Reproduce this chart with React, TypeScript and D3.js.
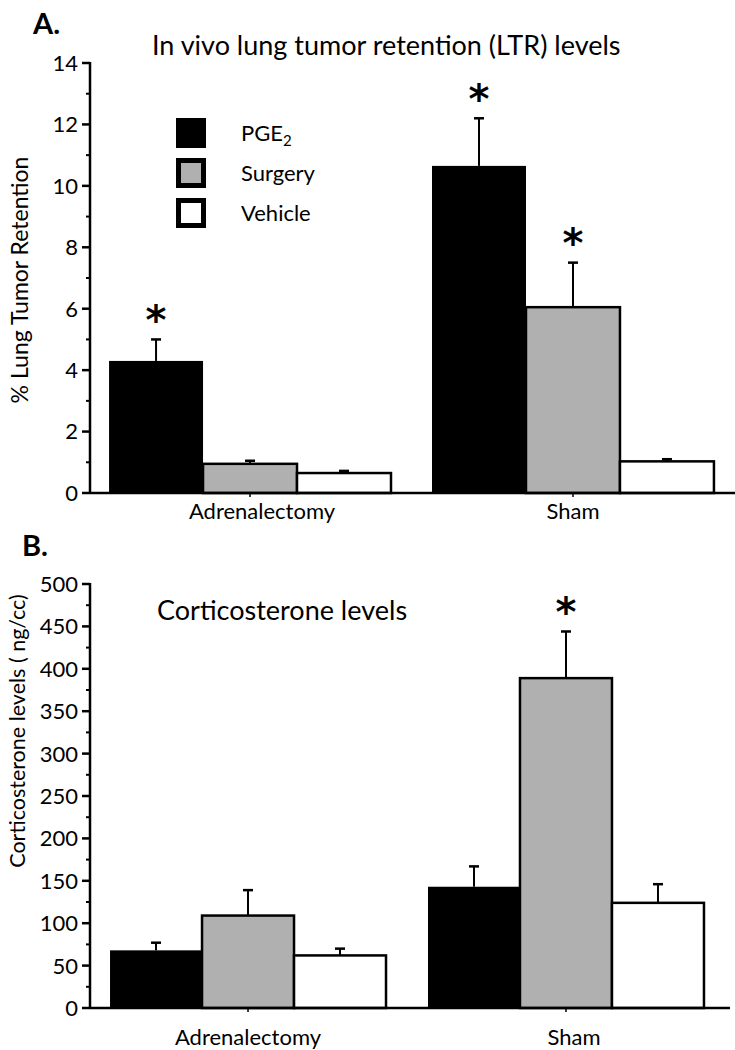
import React from "react";
import * as d3 from "d3";

const groups = ["Adrenalectomy", "Sham"];
const series = ["PGE2", "Surgery", "Vehicle"];
const seriesFill = ["#000000", "#b0b0b0", "#ffffff"];

// Panel A: % Lung Tumor Retention
const ltrMeans = [
  [4.3, 0.95, 0.65],
  [10.65, 6.05, 1.03],
];
const ltrErrTops = [
  [5.0, 1.05, 0.72],
  [12.2, 7.5, 1.1],
];
const ltrStars = [
  [true, false, false],
  [true, true, false],
];
const ltrTicks = [0, 2, 4, 6, 8, 10, 12, 14];
const ltrMinor = [1, 3, 5, 7, 9, 11, 13];

// Panel B: Corticosterone levels
const cortMeans = [
  [68, 109, 62],
  [143, 389, 124],
];
const cortErrTops = [
  [77, 139, 70],
  [167, 444, 146],
];
const cortStars = [
  [false, false, false],
  [false, true, false],
];
const cortTicks = [0, 50, 100, 150, 200, 250, 300, 350, 400, 450, 500];
const cortMinor = [25, 75, 125, 175, 225, 275, 325, 375, 425, 475];

const FONT = "Lato, 'Open Sans', sans-serif";

type PanelProps = {
  means: number[][];
  errs: number[][];
  stars: boolean[][];
  ticks: number[];
  minor: number[];
  yMax: number;
  yTop: number;
  yBottom: number;
  xRange: [number, number];
  padInner: number;
  padOuter: number;
  axisEnd: number;
  tickFont: number;
  catFont: number;
  catY: number;
  catDx: number[];
};

function Panel(p: PanelProps) {
  const y = d3.scaleLinear().domain([0, p.yMax]).range([p.yBottom, p.yTop]);
  const x0 = d3
    .scaleBand<string>()
    .domain(groups)
    .range(p.xRange)
    .paddingInner(p.padInner)
    .paddingOuter(p.padOuter);
  const x1 = d3.scaleBand<string>().domain(series).range([0, x0.bandwidth()]);
  const axisX = 90;
  return (
    <g>
      {groups.map((g, gi) =>
        series.map((s, si) => {
          const bx = (x0(g) as number) + (x1(s) as number);
          const bw = x1.bandwidth();
          const top = y(p.means[gi][si]);
          const cx = bx + bw / 2;
          const et = y(p.errs[gi][si]);
          return (
            <g key={g + s}>
              <line x1={cx} x2={cx} y1={top} y2={et} stroke="#000" strokeWidth={2} />
              <line x1={cx - 5} x2={cx + 5} y1={et} y2={et} stroke="#000" strokeWidth={2.5} />
              <rect
                x={bx}
                y={top}
                width={bw}
                height={p.yBottom - top}
                fill={seriesFill[si]}
                stroke="#000"
                strokeWidth={si === 0 ? 0 : 2.5}
              />
              {p.stars[gi][si] && (
                <text
                  x={cx}
                  y={et - 34}
                  textAnchor="middle"
                  fontFamily="'DejaVu Sans', sans-serif"
                  fontSize={40}
                  fontWeight="bold"
                  dy="0.72em"
                >
                  *
                </text>
              )}
            </g>
          );
        })
      )}
      {/* axes */}
      <line x1={axisX} x2={axisX} y1={p.yTop - 1} y2={p.yBottom + 1} stroke="#000" strokeWidth={2.5} />
      <line x1={axisX} x2={p.axisEnd} y1={p.yBottom} y2={p.yBottom} stroke="#000" strokeWidth={2.5} />
      {p.ticks.map((t) => (
        <g key={"t" + t}>
          <line x1={axisX - 8} x2={axisX} y1={y(t)} y2={y(t)} stroke="#000" strokeWidth={2.5} />
          <text
            x={axisX - 12}
            y={y(t)}
            dy="0.36em"
            textAnchor="end"
            fontFamily={FONT}
            fontSize={p.tickFont}
          >
            {t}
          </text>
        </g>
      ))}
      {p.minor.map((t) => (
        <line key={"m" + t} x1={axisX - 4} x2={axisX} y1={y(t)} y2={y(t)} stroke="#000" strokeWidth={2} />
      ))}
      {groups.map((g, gi) => {
        const cx = (x0(g) as number) + x0.bandwidth() / 2;
        return (
          <g key={"c" + g}>
            <line x1={cx} x2={cx} y1={p.yBottom} y2={p.yBottom + 4} stroke="#000" strokeWidth={1.5} />
            <text x={cx + p.catDx[gi]} y={p.catY} textAnchor="middle" fontFamily={FONT} fontSize={p.catFont}>
              {g}
            </text>
          </g>
        );
      })}
    </g>
  );
}

export default function App() {
  return (
    <svg width={735} height={1050} style={{ display: "block", position: "absolute", left: 0, top: 0, background: "#fff" }}>
      <rect x={0} y={0} width={735} height={1050} fill="#fff" />
      {/* Panel A */}
      <text x={33} y={34} fontFamily={FONT} fontWeight="bold" fontSize={29}>
        A.
      </text>
      <text x={152} y={55} fontFamily={FONT} fontSize={27}>
        In vivo lung tumor retention (LTR) levels
      </text>
      <text
        transform="translate(28,280) rotate(-90)"
        textAnchor="middle"
        fontFamily={FONT}
        fontSize={23}
      >
        % Lung Tumor Retention
      </text>
      <Panel
        means={ltrMeans}
        errs={ltrErrTops}
        stars={ltrStars}
        ticks={ltrTicks}
        minor={ltrMinor}
        yMax={14}
        yTop={63}
        yBottom={493}
        xRange={[90, 733]}
        padInner={0.127}
        padOuter={0.059}
        axisEnd={735}
        tickFont={22}
        catFont={22}
        catY={519}
        catDx={[12, 0]}
      />
      {/* Legend */}
      {series.map((s, i) => (
        <g key={"lg" + s}>
          <rect
            x={i === 0 ? 176 : 178.5}
            y={(i === 0 ? 118 : 120.5) + i * 40}
            width={i === 0 ? 30 : 25}
            height={i === 0 ? 30 : 25}
            fill={seriesFill[i]}
            stroke="#000"
            strokeWidth={i === 0 ? 0 : 5}
          />
          {i === 0 ? (
            <text x={241} y={141 + i * 40} fontFamily={FONT} fontSize={22}>
              PGE<tspan fontSize={15} dy={5}>2</tspan>
            </text>
          ) : (
            <text x={241} y={141 + i * 40} fontFamily={FONT} fontSize={22}>
              {s}
            </text>
          )}
        </g>
      ))}

      {/* Panel B */}
      <text x={22} y={556} fontFamily={FONT} fontWeight="bold" fontSize={29}>
        B.
      </text>
      <text x={157} y={620} fontFamily={FONT} fontSize={27}>
        Corticosterone levels
      </text>
      <text
        transform="translate(25,731) rotate(-90)"
        textAnchor="middle"
        fontFamily={FONT}
        fontSize={21.5}
      >
        Corticosterone levels ( ng/cc)
      </text>
      <Panel
        means={cortMeans}
        errs={cortErrTops}
        stars={cortStars}
        ticks={cortTicks}
        minor={cortMinor}
        yMax={500}
        yTop={584}
        yBottom={1008}
        xRange={[90, 724]}
        padInner={0.132}
        padOuter={0.063}
        axisEnd={730}
        tickFont={22}
        catFont={22}
        catY={1045}
        catDx={[0, 8]}
      />
    </svg>
  );
}
